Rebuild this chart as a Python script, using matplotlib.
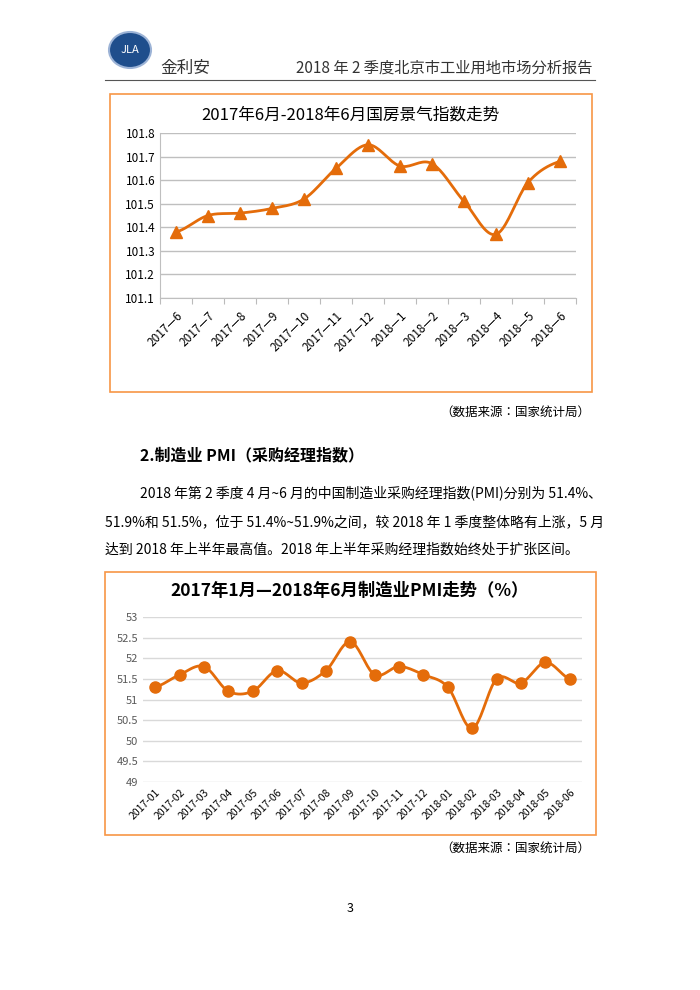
import numpy as np
import matplotlib.pyplot as plt
from matplotlib import font_manager
from matplotlib.patches import Rectangle, Ellipse

cjk = sorted(set(f.name for f in font_manager.fontManager.ttflist if 'CJK' in f.name))
fam = 'Noto Sans CJK SC' if 'Noto Sans CJK SC' in cjk else (cjk[0] if cjk else 'DejaVu Sans')
plt.rcParams['font.family'] = [fam, 'DejaVu Sans']

# 国房景气指数
months1 = ['2017—6', '2017—7', '2017—8', '2017—9', '2017—10', '2017—11', '2017—12',
           '2018—1', '2018—2', '2018—3', '2018—4', '2018—5', '2018—6']
index1 = [101.38, 101.45, 101.46, 101.48, 101.52, 101.65, 101.75,
          101.66, 101.67, 101.51, 101.37, 101.59, 101.68]

# 制造业PMI
months2 = ['2017-01', '2017-02', '2017-03', '2017-04', '2017-05', '2017-06', '2017-07',
           '2017-08', '2017-09', '2017-10', '2017-11', '2017-12', '2018-01', '2018-02',
           '2018-03', '2018-04', '2018-05', '2018-06']
pmi = [51.3, 51.6, 51.8, 51.2, 51.2, 51.7, 51.4, 51.7, 52.4, 51.6, 51.8, 51.6,
       51.3, 50.3, 51.5, 51.4, 51.9, 51.5]

ORANGE = '#E46C0A'
W, H = 700, 990


def smooth(y, n=20):
    # catmull-rom style curve like excel's smoothed line
    y = np.asarray(y, float)
    x = np.arange(len(y), dtype=float)
    xs, ys = [], []
    for i in range(len(y) - 1):
        p0 = y[i - 1] if i > 0 else y[i]
        p3 = y[i + 2] if i + 2 < len(y) else y[i + 1]
        p1, p2 = y[i], y[i + 1]
        t = np.linspace(0, 1, n, endpoint=False)
        c1 = p1 + (p2 - p0) / 6
        c2 = p2 - (p3 - p1) / 6
        ys.extend((1 - t) ** 3 * p1 + 3 * (1 - t) ** 2 * t * c1 + 3 * (1 - t) * t ** 2 * c2 + t ** 3 * p2)
        xs.extend(x[i] + t)
    xs.append(x[-1]); ys.append(y[-1])
    return np.array(xs), np.array(ys)


def fx(px):
    return px / W


def fy(py):
    return 1 - py / H


def box(fig, x0, y0, x1, y1):
    fig.patches.append(Rectangle((fx(x0), fy(y1)), fx(x1 - x0), (y1 - y0) / H,
                                 transform=fig.transFigure, fill=False, ec='#F79646', lw=1.2))


fig = plt.figure(figsize=(7, 9.9), dpi=100)

# header
fig.patches.append(Ellipse((fx(130), fy(50)), fx(42), 36 / H, transform=fig.transFigure,
                           fc='#1F4E8C', ec='#9CB3D6', lw=1.5))
fig.text(fx(130), fy(50), 'JLA', color='white', fontsize=8, style='italic', ha='center', va='center')
fig.text(fx(160), fy(68), '金利安', fontsize=12, color='#333333', va='center')
fig.text(fx(592), fy(68), '2018 年 2 季度北京市工业用地市场分析报告', fontsize=11, color='#333333',
         ha='right', va='center')
fig.lines.append(plt.Line2D([fx(105), fx(595)], [fy(80), fy(80)], transform=fig.transFigure,
                            color='#555555', lw=0.8))

# chart 1
box(fig, 110, 94, 592, 392)
ax1 = fig.add_axes([fx(160), fy(298), fx(576 - 160), (298 - 133) / H])
sx, sy = smooth(index1)
ax1.plot(sx, sy, color=ORANGE, lw=2)
ax1.plot(range(len(index1)), index1, '^', color=ORANGE, ms=8)
ax1.set_ylim(101.1, 101.8)
ax1.set_yticks(np.arange(101.1, 101.81, 0.1))
ax1.set_yticklabels([f'{v:.1f}' for v in np.arange(101.1, 101.81, 0.1)], fontsize=8.5)
ax1.set_xlim(-0.5, len(index1) - 0.5)
ax1.set_xticks(np.arange(-0.5, len(index1), 1), minor=False)
ax1.set_xticklabels([])
ax1.set_xticks(range(len(index1)), minor=True)
ax1.set_xticklabels(months1, minor=True, rotation=45, ha='right', rotation_mode='anchor', fontsize=8.5)
ax1.tick_params(axis='x', which='minor', length=0, pad=8)
ax1.tick_params(axis='x', which='major', length=4, color='#bbbbbb')
ax1.tick_params(axis='y', length=0)
ax1.grid(axis='y', color='#BFBFBF', lw=1)
for s in ['top', 'right']:
    ax1.spines[s].set_visible(False)
ax1.spines['left'].set_color('#BFBFBF')
ax1.spines['bottom'].set_color('#BFBFBF')
ax1.set_axisbelow(True)
fig.text(fx(350), fy(115), '2017年6月-2018年6月国房景气指数走势', fontsize=12, ha='center', va='center')

fig.text(fx(590), fy(412), '（数据来源：国家统计局）', fontsize=9, ha='right', va='center')
fig.text(fx(140), fy(455), '2.制造业 PMI（采购经理指数）', fontsize=11.5, weight='bold', va='center')
fig.text(fx(140), fy(493), '2018 年第 2 季度 4 月~6 月的中国制造业采购经理指数(PMI)分别为 51.4%、',
         fontsize=10, va='center')
fig.text(fx(105), fy(522), '51.9%和 51.5%，位于 51.4%~51.9%之间，较 2018 年 1 季度整体略有上涨，5 月',
         fontsize=10, va='center')
fig.text(fx(105), fy(550), '达到 2018 年上半年最高值。2018 年上半年采购经理指数始终处于扩张区间。',
         fontsize=10, va='center')

# chart 2
box(fig, 105, 572, 596, 835)
ax2 = fig.add_axes([fx(143), fy(782), fx(582 - 143), (782 - 617) / H])
sx, sy = smooth(pmi)
ax2.plot(sx, sy, color=ORANGE, lw=2)
ax2.plot(range(len(pmi)), pmi, 'o', color=ORANGE, ms=8)
ax2.set_ylim(49, 53)
ax2.set_yticks(np.arange(49, 53.1, 0.5))
ax2.set_yticklabels([f'{v:g}' for v in np.arange(49, 53.1, 0.5)], fontsize=8, color='#595959')
ax2.set_xlim(-0.5, len(pmi) - 0.5)
ax2.set_xticks(range(len(pmi)))
ax2.set_xticklabels(months2, rotation=45, ha='right', rotation_mode='anchor', fontsize=7.5)
ax2.tick_params(length=0)
ax2.grid(axis='y', color='#D9D9D9', lw=1)
for s in ax2.spines.values():
    s.set_visible(False)
ax2.set_axisbelow(True)
fig.text(fx(350), fy(591), '2017年1月—2018年6月制造业PMI走势（%）', fontsize=12.5, weight='bold',
         ha='center', va='center')

fig.text(fx(590), fy(848), '（数据来源：国家统计局）', fontsize=9, ha='right', va='center')
fig.text(fx(350), fy(908), '3', fontsize=9, ha='center', va='center')

fig.savefig('out.png', dpi=100)
